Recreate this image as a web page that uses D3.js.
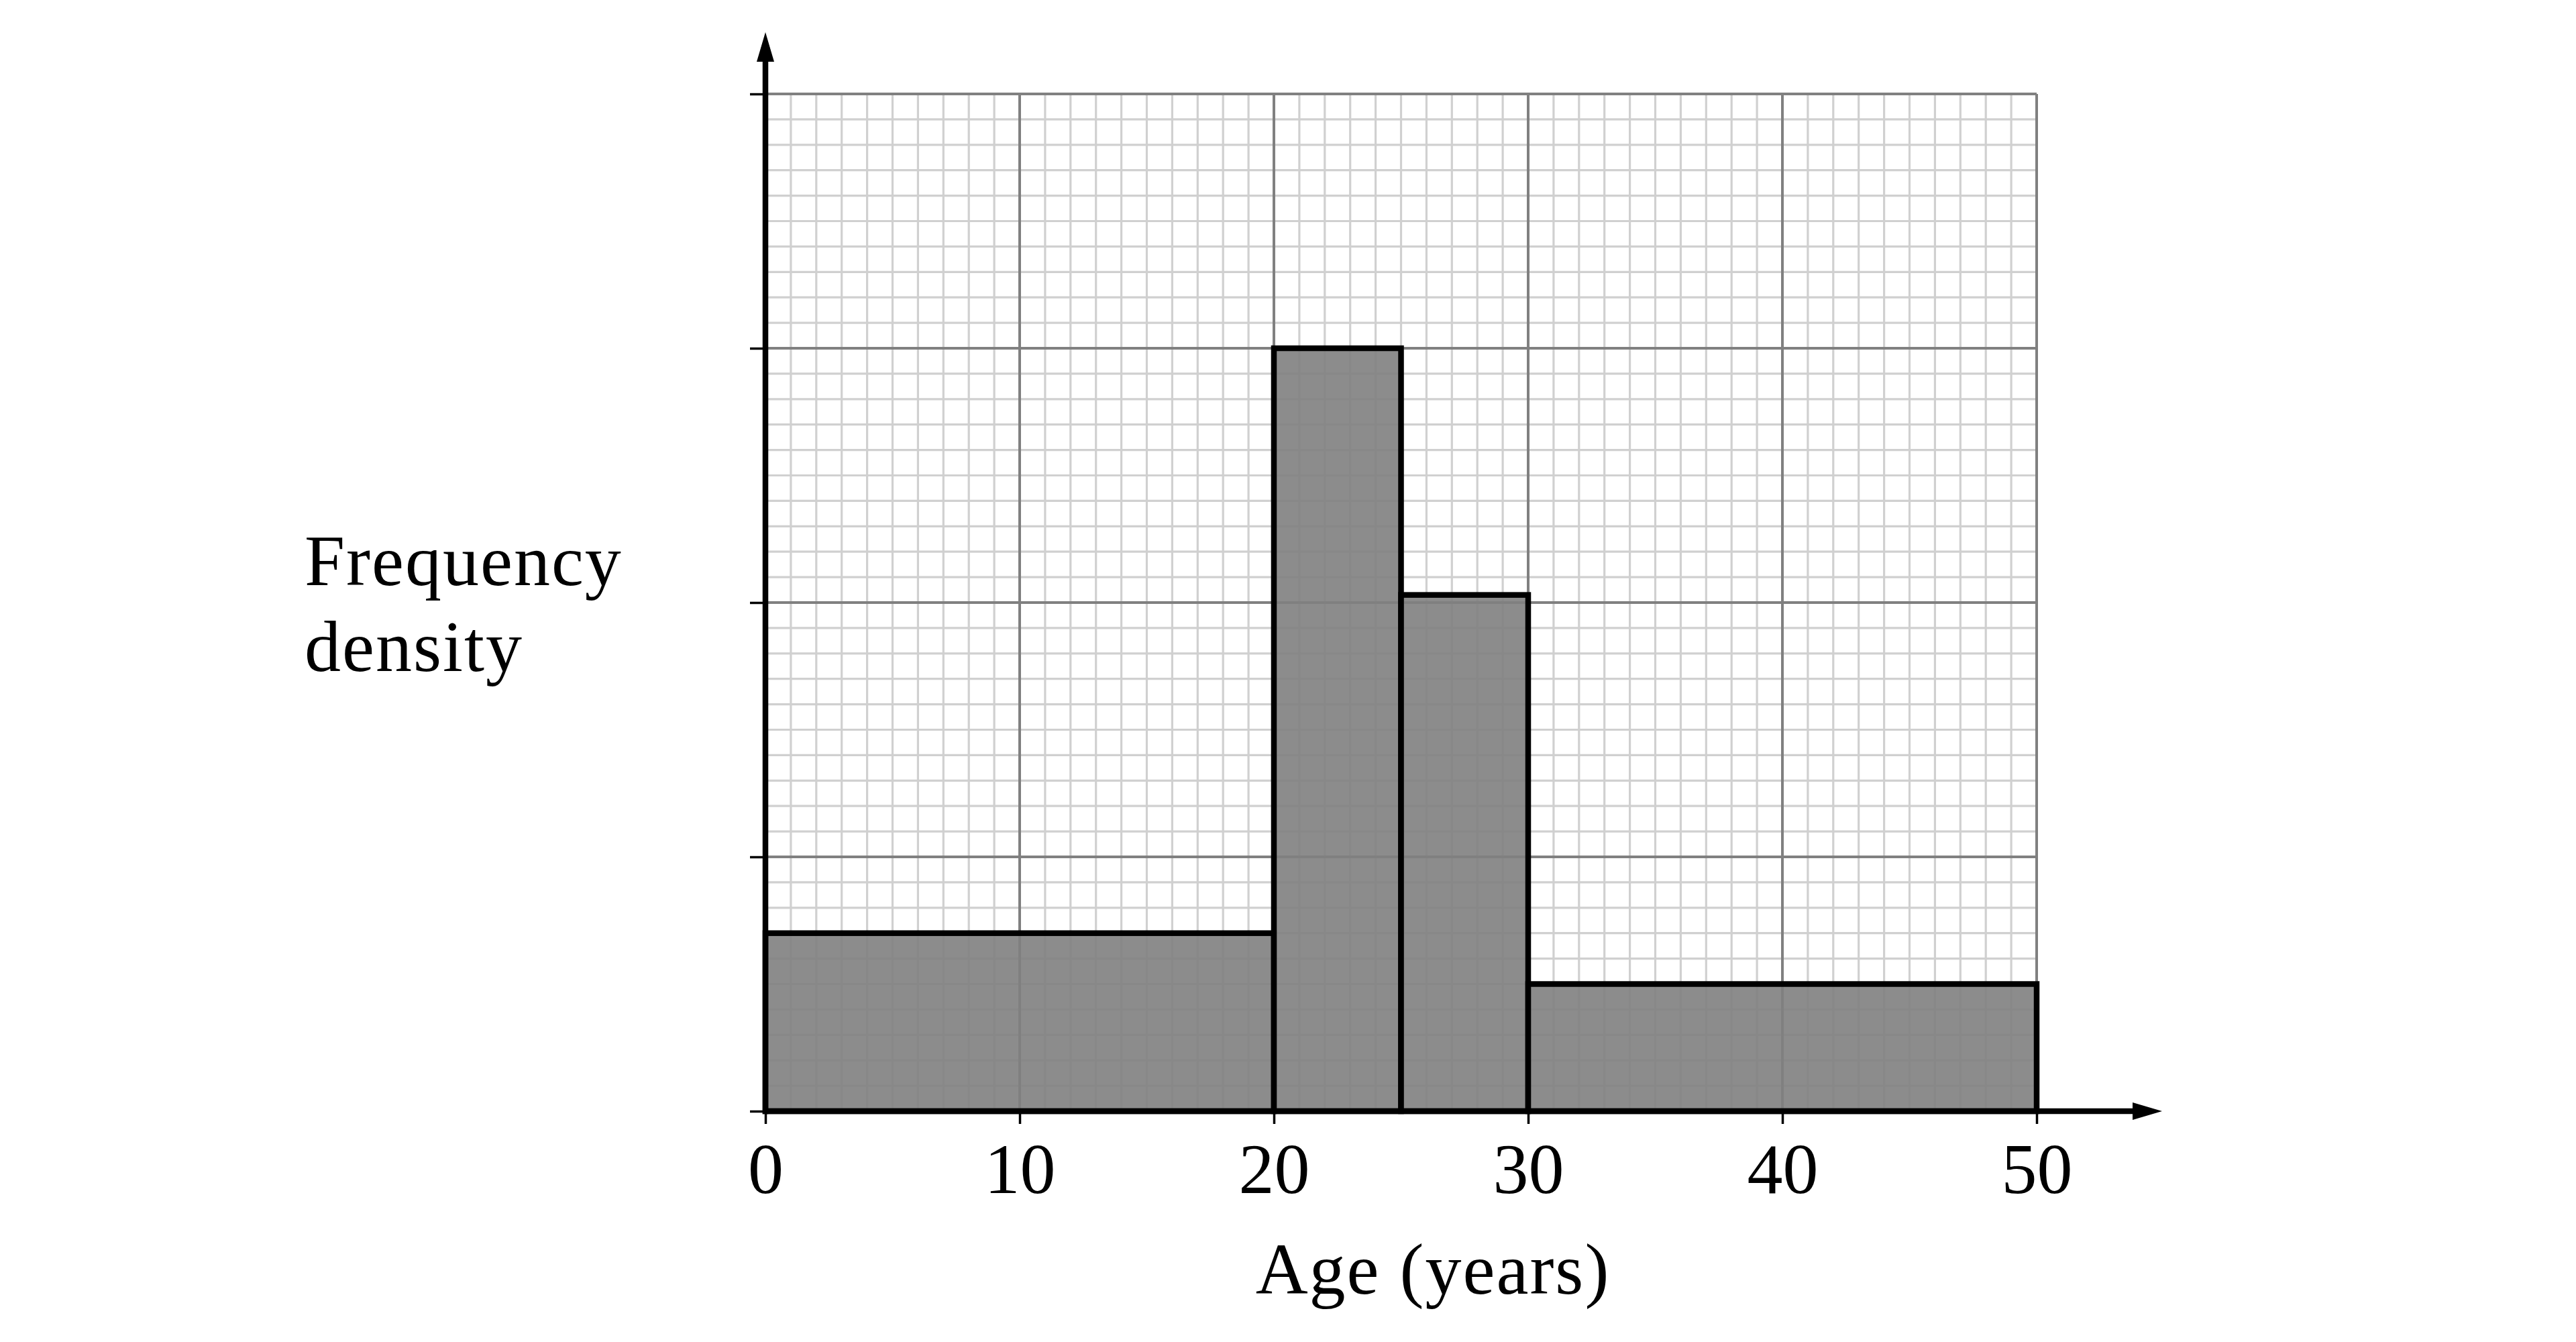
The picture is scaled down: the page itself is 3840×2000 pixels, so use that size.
<!DOCTYPE html>
<html>
<head>
<meta charset="utf-8">
<script src="https://cdn.jsdelivr.net/npm/d3@7"></script>
<style>
  body { margin: 0; background: #fff; }
  text { font-family: "Liberation Serif", "Times New Roman", serif; fill: #000; }
</style>
</head>
<body>
<svg id="chart" width="3840" height="2000"></svg>
<script>
// class boundaries (age, years) and the frequency density of each bar,
// density is measured in small grid squares (the axis has no numbers)
var binStart = [0, 20, 25, 30];
var binEnd = [20, 25, 30, 50];
var density = [7, 30, 20.3, 5];
var xTicks = [0, 10, 20, 30, 40, 50];
var yTicks = [0, 10, 20, 30, 40];

var svg = d3.select("#chart");
svg.append("rect").attr("width", 3840).attr("height", 2000).attr("fill", "#fff");

var x = d3.scaleLinear().domain([0, 50]).range([1141, 3036]);
var y = d3.scaleLinear().domain([0, 40]).range([1656, 140]);

// graph paper
var grid = svg.append("g");
var minor = d3.range(0, 51).filter(function(d) { return d % 10 != 0; });
var minorY = d3.range(0, 41).filter(function(d) { return d % 10 != 0; });
grid.selectAll(".vmin").data(minor).enter().append("line")
    .attr("x1", d => x(d)).attr("x2", d => x(d))
    .attr("y1", y(0)).attr("y2", y(40))
    .attr("stroke", "#d0d0d0").attr("stroke-width", 3.2);
grid.selectAll(".hmin").data(minorY).enter().append("line")
    .attr("x1", x(0)).attr("x2", x(50))
    .attr("y1", d => y(d)).attr("y2", d => y(d))
    .attr("stroke", "#d0d0d0").attr("stroke-width", 3.2);
grid.selectAll(".vmaj").data(xTicks).enter().append("line")
    .attr("x1", d => x(d)).attr("x2", d => x(d))
    .attr("y1", y(0)).attr("y2", y(40))
    .attr("stroke", "#808080").attr("stroke-width", 4);
grid.selectAll(".hmaj").data(yTicks).enter().append("line")
    .attr("x1", x(0)).attr("x2", x(50))
    .attr("y1", d => y(d)).attr("y2", d => y(d))
    .attr("stroke", "#808080").attr("stroke-width", 4);

// bars
svg.selectAll(".bar").data(density).enter().append("rect")
    .attr("class", "bar")
    .attr("x", (d, i) => x(binStart[i]))
    .attr("y", d => y(d))
    .attr("width", (d, i) => x(binEnd[i]) - x(binStart[i]))
    .attr("height", d => y(0) - y(d))
    .attr("fill", "#7f7f7f").attr("fill-opacity", 0.9)
    .attr("stroke", "#000").attr("stroke-width", 8.5);

// axes with ticks
var xAxis = svg.append("g")
    .attr("transform", "translate(0," + y(0) + ")")
    .call(d3.axisBottom(x).tickValues(xTicks).tickSize(19).tickPadding(28).tickFormat(d3.format("d")));
xAxis.select(".domain").remove();
xAxis.selectAll(".tick line").attr("stroke", "#000").attr("stroke-width", 3.5);
xAxis.selectAll(".tick text").attr("font-size", 106).attr("font-family", "Liberation Serif");

var yAxis = svg.append("g")
    .attr("transform", "translate(" + x(0) + ",0)")
    .call(d3.axisLeft(y).tickValues(yTicks).tickSize(23).tickFormat(""));
yAxis.select(".domain").remove();
yAxis.selectAll(".tick line").attr("stroke", "#000").attr("stroke-width", 3.5);

// axis lines with arrow heads
svg.append("line")
    .attr("x1", x(0)).attr("x2", 3182)
    .attr("y1", y(0)).attr("y2", y(0))
    .attr("stroke", "#000").attr("stroke-width", 8.5);
svg.append("path")
    .attr("d", "M3179," + (y(0) - 13) + "L3223," + y(0) + "L3179," + (y(0) + 13) + "Z")
    .attr("fill", "#000");
svg.append("line")
    .attr("x1", x(0)).attr("x2", x(0))
    .attr("y1", y(0) + 4.25).attr("y2", 89)
    .attr("stroke", "#000").attr("stroke-width", 8.5);
svg.append("path")
    .attr("d", "M" + (x(0) - 13) + ",92L" + x(0) + ",48L" + (x(0) + 13) + ",92Z")
    .attr("fill", "#000");

// axis titles
var yTitle = svg.append("text")
    .attr("x", 454).attr("y", 872)
    .attr("font-size", 108).attr("letter-spacing", 2);
yTitle.append("tspan").attr("x", 454).attr("y", 872).text("Frequency");
yTitle.append("tspan").attr("x", 454).attr("y", 1000).text("density");

svg.append("text")
    .attr("x", 2136).attr("y", 1928)
    .attr("text-anchor", "middle")
    .attr("font-size", 108).attr("letter-spacing", 2)
    .text("Age (years)");
</script>
</body>
</html>
